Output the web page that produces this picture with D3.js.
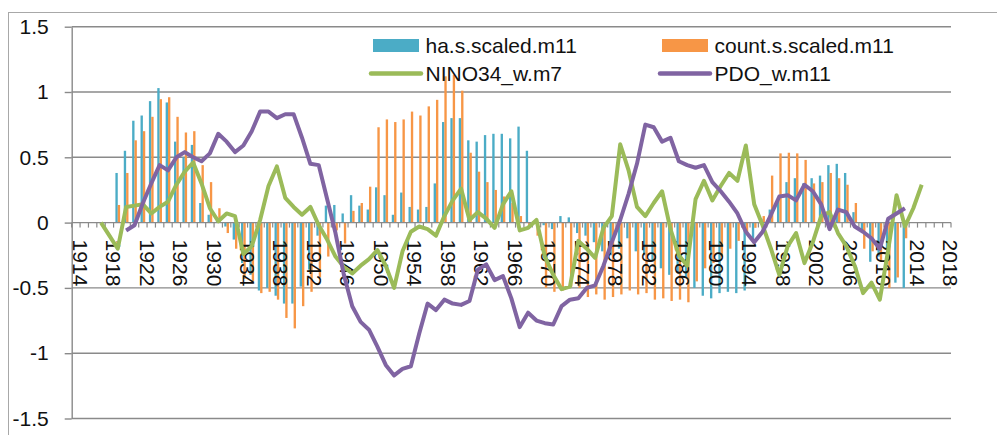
<!DOCTYPE html>
<html>
<head>
<meta charset="utf-8">
<script src="https://cdn.jsdelivr.net/npm/d3@7"></script>
<style>
  body { margin: 0; background: #fff; }
  svg { display: block; }
  text { font-family: "Liberation Sans", Arial, sans-serif; fill: #111; }
</style>
</head>
<body>
<svg id="chart" width="997" height="435"></svg>
<script>
// Category axis: one slot per year, labelled every fourth year
const years = d3.range(1914, 2019);
const tickYears = d3.range(1914, 2019, 4);
const yTicks = [-1.5, -1, -0.5, 0, 0.5, 1, 1.5];

// Scaled annual series (bars), first value is 1919
const barStartYear = 1919;
const haScaled = [
  0.38, 0.55, 0.78, 0.82, 0.93, 1.03, 0.92, 0.62, 0.50, 0.595,
  0.15, 0.06, 0.02, -0.03, -0.13, -0.31, -0.40, -0.52, -0.50, -0.56,
  -0.62, -0.62, -0.49, -0.36, -0.10, 0.13, 0.135, 0.07, 0.21, 0.13,
  0.10, 0.27, 0.21, 0.06, 0.23, 0.12, 0.10, 0.12, 0.30, 0.77,
  0.80, 0.80, 0.63, 0.62, 0.67, 0.68, 0.68, 0.645, 0.735, 0.55,
  0.01, -0.02, -0.05, 0.05, 0.04, -0.08, -0.10, -0.15, -0.22, -0.25,
  -0.20, -0.12, -0.22, -0.25, -0.30, -0.35, -0.40, -0.38, -0.42, -0.50,
  -0.56, -0.58, -0.54, -0.53, -0.54, -0.52, -0.15, 0.03, 0.10, 0.17,
  0.31, 0.34, 0.30, 0.34, 0.36, 0.44, 0.45, 0.38, 0.08, -0.06,
  -0.30, -0.26, -0.20, -0.46, -0.50
];
const countScaled = [
  0.135, 0.38, 0.63, 0.70, 0.81, 0.945, 0.96, 0.81, 0.69, 0.70,
  0.44, 0.31, 0.11, -0.08, -0.20, -0.43, -0.45, -0.54, -0.53, -0.59,
  -0.73, -0.81, -0.64, -0.53, -0.42, -0.26, -0.06, -0.16, 0.09, 0.15,
  0.275, 0.73, 0.79, 0.77, 0.79, 0.85, 0.82, 0.89, 0.94, 1.12,
  1.13, 1.01, 0.535, 0.39, 0.31, 0.25, 0.20, 0.15, 0.05, -0.02,
  -0.10, -0.50, -0.53, -0.52, -0.49, -0.50, -0.57, -0.55, -0.59, -0.57,
  -0.55, -0.52, -0.55, -0.54, -0.59, -0.58, -0.60, -0.59, -0.61, -0.45,
  -0.35, -0.31, -0.26, -0.20, -0.14, -0.09, -0.04, 0.05, 0.36, 0.53,
  0.535, 0.53, 0.48, 0.30, 0.31, 0.38, 0.34, 0.29, 0.15, -0.20,
  -0.22, -0.30, -0.50, -0.42, -0.12
];

// Smoothed climate indices (lines)
const ninoStartYear = 1917;
const nino34 = [
  0.00, -0.10, -0.20, 0.12, 0.13, 0.14, 0.07, 0.12, 0.16, 0.29,
  0.39, 0.46, 0.30, 0.11, 0.01, 0.07, 0.05, -0.24, -0.18, 0.02,
  0.28, 0.43, 0.19, 0.12, 0.06, 0.12, -0.02, -0.13, -0.26, -0.34,
  -0.39, -0.33, -0.28, -0.21, -0.33, -0.50, -0.22, -0.07, -0.03, -0.05,
  -0.10, 0.05, 0.17, 0.26, 0.02, 0.08, 0.03, -0.04, 0.14, 0.24,
  -0.06, -0.04, 0.02, -0.26, -0.40, -0.51, -0.49, -0.14, -0.20, -0.27,
  -0.04, 0.05, 0.60, 0.40, 0.12, 0.05, 0.15, 0.24, -0.05, -0.25,
  -0.33, 0.18, 0.32, 0.17, 0.28, 0.38, 0.32, 0.59, 0.14, -0.02,
  -0.20, -0.40, -0.18, -0.08, -0.31, -0.15, 0.05, 0.08, -0.08, -0.18,
  -0.33, -0.54, -0.46, -0.59, -0.21, 0.21, -0.03, 0.11, 0.29
];
const pdoStartYear = 1920;
const pdo = [
  -0.06, -0.02, 0.15, 0.30, 0.44, 0.40, 0.50, 0.54, 0.50, 0.47,
  0.53, 0.68, 0.62, 0.54, 0.59, 0.70, 0.85, 0.85, 0.80, 0.83,
  0.83, 0.65, 0.45, 0.44, 0.18, -0.08, -0.40, -0.64, -0.76, -0.82,
  -0.95, -1.09, -1.17, -1.12, -1.10, -0.85, -0.62, -0.67, -0.59, -0.62,
  -0.63, -0.60, -0.36, -0.32, -0.44, -0.41, -0.58, -0.80, -0.69, -0.75,
  -0.77, -0.78, -0.64, -0.59, -0.58, -0.50, -0.48, -0.33, -0.15, 0.02,
  0.22, 0.45, 0.75, 0.73, 0.62, 0.65, 0.47, 0.44, 0.42, 0.44,
  0.31, 0.24, 0.16, 0.07, -0.07, -0.15, -0.07, 0.06, 0.20, 0.21,
  0.17, 0.29, 0.24, 0.14, -0.05, 0.10, 0.08, -0.03, -0.07, -0.12,
  -0.20, 0.03, 0.07, 0.11
];

const seriesNames = ["ha.s.scaled.m11", "count.s.scaled.m11", "NINO34_w.m7", "PDO_w.m11"];
const colors = { ha: "#4bacc6", count: "#f79646", nino: "#9bbb59", pdo: "#8064a2" };

const svg = d3.select("#chart");
const plot = { left: 71.7, right: 951, top: 26.7, bottom: 418.5 };

const x = d3.scaleBand().domain(years).range([plot.left, plot.right]).padding(0);
const xSeries = d3.scaleBand().domain(["ha", "count"]).range([0, x.bandwidth()])
  .paddingInner(0).paddingOuter(0.78);
const y = d3.scaleLinear().domain([-1.5, 1.5]).range([plot.bottom, plot.top]);
const xc = yr => x(yr) + x.bandwidth() / 2;

// Outer chart frame
svg.append("rect")
  .attr("x", 8.5).attr("y", 12.5).attr("width", 1000).attr("height", 500)
  .attr("fill", "none").attr("stroke", "#a8a8a8").attr("stroke-width", 1);

// Horizontal gridlines
svg.append("g").selectAll("line").data(yTicks.filter(v => v !== 0)).join("line")
  .attr("x1", plot.left).attr("x2", plot.right)
  .attr("y1", d => y(d)).attr("y2", d => y(d))
  .attr("stroke", "#8a8a8a").attr("stroke-width", 1.4);

// Value axis
const yAxis = svg.append("g").attr("transform", `translate(${plot.left},0)`)
  .call(d3.axisLeft(y).tickValues(yTicks).tickSizeInner(7).tickSizeOuter(0)
    .tickPadding(16).tickFormat(d => String(d)));
yAxis.select(".domain").attr("stroke", "#8a8a8a").attr("stroke-width", 1.4);
yAxis.selectAll(".tick line").attr("stroke", "#8a8a8a").attr("stroke-width", 1.4);
yAxis.selectAll("text").style("font-size", "21px").attr("fill", "#111");

// Bars
const toRows = (arr, start) => arr.map((v, i) => ({ year: start + i, value: v }));
const barGroup = svg.append("g");
[["ha", haScaled], ["count", countScaled]].forEach(([key, arr]) => {
  barGroup.append("g").selectAll("rect").data(toRows(arr, barStartYear)).join("rect")
    .attr("x", d => x(d.year) + xSeries(key))
    .attr("width", xSeries.bandwidth())
    .attr("y", d => y(Math.max(0, d.value)))
    .attr("height", d => Math.abs(y(d.value) - y(0)))
    .attr("fill", colors[key]);
});

// Category axis along zero, ticks on slot boundaries
const xAxisG = svg.append("g").attr("transform", `translate(0,${y(0)})`);
xAxisG.append("line").attr("x1", plot.left).attr("x2", plot.right)
  .attr("stroke", "#8a8a8a").attr("stroke-width", 1.4);
xAxisG.append("g").selectAll("line").data(years.concat([2019])).join("line")
  .attr("x1", d => d === 2019 ? plot.right : x(d))
  .attr("x2", d => d === 2019 ? plot.right : x(d))
  .attr("y1", 0).attr("y2", 5)
  .attr("stroke", "#8a8a8a").attr("stroke-width", 1.2);
const labelAxis = xAxisG.append("g")
  .attr("transform", `translate(${x.bandwidth() / 2},0)`)
  .call(d3.axisBottom(x).tickValues(tickYears).tickSize(0).tickFormat(d => String(d)));
labelAxis.select(".domain").remove();
labelAxis.selectAll("text")
  .attr("transform", "rotate(90)")
  .attr("x", 17).attr("y", 0).attr("dy", "0.36em")
  .style("text-anchor", "start").style("font-size", "21px").attr("fill", "#111");

// Index lines
const line = d3.line().x(d => xc(d.year)).y(d => y(d.value));
svg.append("path").datum(toRows(nino34, ninoStartYear))
  .attr("d", line).attr("fill", "none").attr("stroke", colors.nino)
  .attr("stroke-width", 4).attr("stroke-linejoin", "round");
svg.append("path").datum(toRows(pdo, pdoStartYear))
  .attr("d", line).attr("fill", "none").attr("stroke", colors.pdo)
  .attr("stroke-width", 4).attr("stroke-linejoin", "round");

// Legend
const legendItems = [
  { name: seriesNames[0], key: "ha", type: "bar", col: 0, row: 0 },
  { name: seriesNames[1], key: "count", type: "bar", col: 1, row: 0 },
  { name: seriesNames[2], key: "nino", type: "line", col: 0, row: 1 },
  { name: seriesNames[3], key: "pdo", type: "line", col: 1, row: 1 }
];
const legend = svg.append("g");
const colX = [373, 662], rowY = [45.5, 73.5];
const li = legend.selectAll("g").data(legendItems).join("g")
  .attr("transform", d => `translate(${colX[d.col]},${rowY[d.row]})`);
li.filter(d => d.type === "bar").append("rect")
  .attr("x", 0).attr("y", -6.5).attr("width", 46).attr("height", 13)
  .attr("fill", d => colors[d.key]);
li.filter(d => d.type === "line").append("line")
  .attr("x1", -2).attr("x2", 48).attr("y1", 0).attr("y2", 0)
  .attr("stroke", d => colors[d.key]).attr("stroke-width", 4.5).attr("stroke-linecap", "round");
li.append("text").attr("x", 52.5).attr("y", 0).attr("dy", "0.36em")
  .style("font-size", "21px").text(d => d.name);
</script>
</body>
</html>
